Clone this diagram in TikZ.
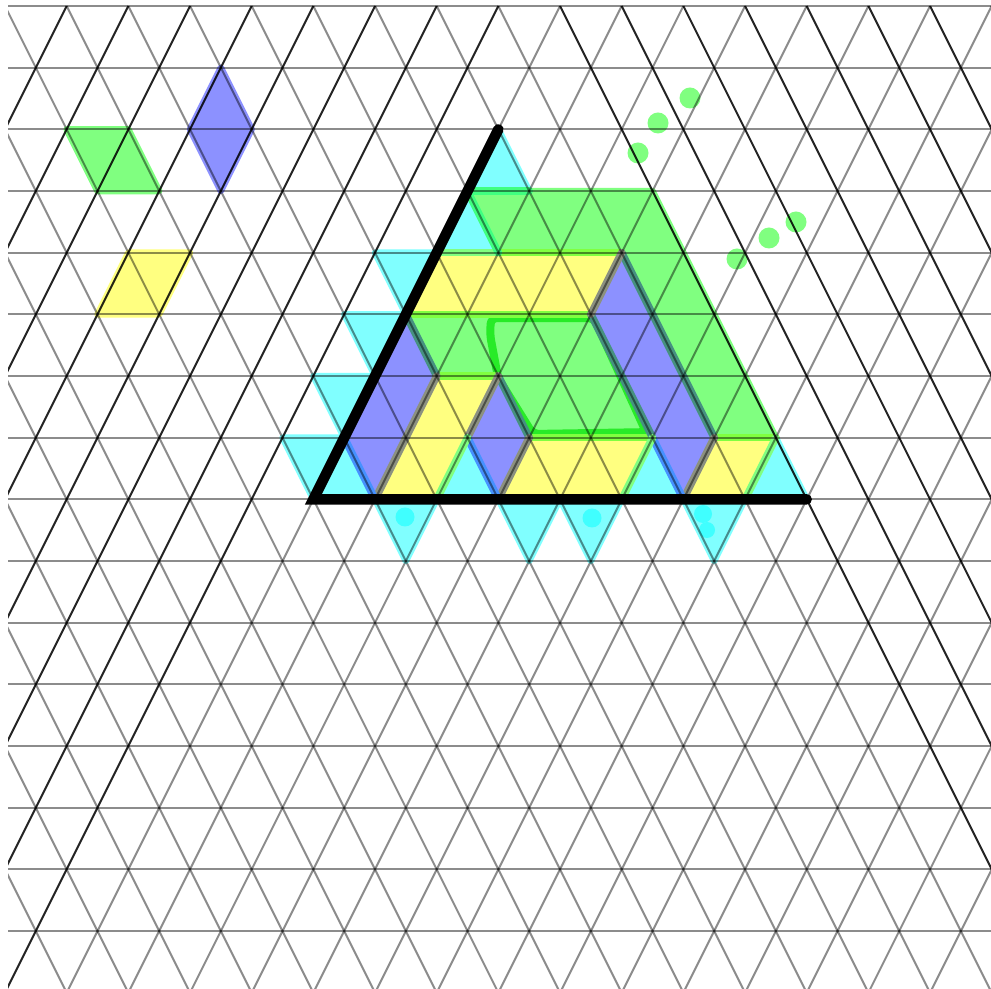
\documentclass[tikz,border=0pt]{standalone}
\usepackage{xcolor}
\usepackage{tikz}
\definecolor{mkcyan}{RGB}{128,255,255}
\definecolor{mkgreen}{RGB}{128,255,128}
\definecolor{mkyellow}{RGB}{255,255,128}
\definecolor{mkblue}{RGB}{140,145,255}
\definecolor{mkloop}{RGB}{40,235,40}
\definecolor{mkcyandark}{RGB}{64,255,255}
% marker overlaps
\definecolor{ovBG}{RGB}{70,145,128}
\definecolor{ovBY}{RGB}{140,145,128}
\definecolor{ovGY}{RGB}{128,255,64}
\definecolor{ovBC}{RGB}{70,145,255}
\definecolor{ovYC}{RGB}{128,255,128}
\definecolor{ovGC}{RGB}{64,255,128}
\tikzset{
  gridln/.style={draw=black, draw opacity=0.45, line width=0.04cm},
  gridlndark/.style={draw=black, draw opacity=0.86, line width=0.04cm},
  marker/.style={fill=#1, draw=#1, line width=0.13cm, line join=round, line cap=round},
  overlap/.style={draw=#1, line width=0.15cm, line cap=round},
  angleln/.style={draw=black, line width=0.21cm, line cap=round},
}

\begin{document}
\begin{tikzpicture}[x={(1.2334cm,0cm)}, y={(0.6167cm,-1.2334cm)}]
  \useasboundingbox (-0.1cm,0.12cm) rectangle (19.72cm,-19.66cm);

  % cyan
  \foreach \a/\j in {7/2, 6/3, 2/7, 4/7, 7/7, 9/7}
    \path[marker=mkcyan] (\a,\j) -- ++(-1,1) -- ++(1,0) -- cycle;
  \foreach \a/\j in {4/4, 3/5, 2/6, 1/7, 2/8, 4/8, 5/8, 7/8}
    \path[marker=mkcyan] (\a,\j) -- ++(1,0) -- ++(-1,1) -- cycle;
  \fill[mkcyandark] (8.0cm,-10.22cm) circle (0.19cm);
  \fill[mkcyandark] (11.74cm,-10.24cm) circle (0.19cm);
  \fill[mkcyandark] (13.96cm,-10.16cm) circle (0.18cm);
  \fill[mkcyandark] (14.04cm,-10.48cm) circle (0.16cm);

  % yellow
  \path[marker=mkyellow] (0,4) -- (1,4) -- (0,5) -- (-1,5) -- cycle;
  \path[marker=mkyellow] (5,4) -- (8,4) -- (7,5) -- (4,5) -- cycle;
  \path[marker=mkyellow] (4,6) -- (5,6) -- (3,8) -- (2,8) -- cycle;
  \path[marker=mkyellow] (5,7) -- (7,7) -- (6,8) -- (4,8) -- cycle;
  \path[marker=mkyellow] (8,7) -- (9,7) -- (8,8) -- (7,8) -- cycle;

  % green
  \path[marker=mkgreen] (0,2) -- (1,2) -- (1,3) -- (0,3) -- cycle;
  \path[marker=mkgreen] (6,3) -- (9,3) -- (9,7) -- (8,7) -- (8,4) -- (6,4) -- cycle;
  \path[marker=mkgreen] (4,5) -- (7,5) -- (7,7) -- (5,7) -- (5,6) -- (4,6) -- cycle;
  \draw[mkloop, line width=0.16cm, rounded corners=0.12cm, line join=round]
    (5.35,5.06) -- (7.02,5.06) -- (6.94,6.91) -- (5.09,6.94) -- (4.98,6.03) -- (5.2,5.33) -- cycle;
  \foreach \p in {(13.7cm,-1.84cm), (13.06cm,-2.34cm), (12.66cm,-2.94cm),
                  (14.64cm,-5.06cm), (15.28cm,-4.64cm), (15.82cm,-4.32cm)}
    \fill[mkgreen] \p circle (0.21cm);

  % blue
  \path[marker=mkblue] (3,1) -- (3,2) -- (2,3) -- (2,2) -- cycle;
  \path[marker=mkblue] (4,5) -- (4,6) -- (2,8) -- (2,7) -- cycle;
  \path[marker=mkblue] (5,6) -- (5,7) -- (4,8) -- (4,7) -- cycle;
  \path[marker=mkblue] (8,4) -- (8,7) -- (7,8) -- (7,5) -- cycle;

  % where two markers overlap
  \draw[overlap=ovGY] (6,4) -- (8,4);
  \draw[overlap=ovGY] (4,5) -- (7,5);
  \draw[overlap=ovGY] (4,6) -- (5,6);
  \draw[overlap=ovGY] (5,7) -- (7,7);
  \draw[overlap=ovGY] (8,7) -- (9,7);
  \draw[overlap=ovBG] (8,4) -- (8,7);
  \draw[overlap=ovBG] (7,5) -- (7,7);
  \draw[overlap=ovBG] (5,6) -- (5,7);
  \draw[overlap=ovBG] (4,5) -- (4,6);
  \draw[overlap=ovBY] (8,4) -- (7,5);
  \draw[overlap=ovBY] (4,6) -- (2,8);
  \draw[overlap=ovBY] (5,6) -- (4,7);
  \draw[overlap=ovBY] (5,7) -- (4,8);
  \draw[overlap=ovBY] (8,7) -- (7,8);
  \draw[overlap=ovBC] (2,7) -- (2,8);
  \draw[overlap=ovBC] (4,7) -- (4,8);
  \draw[overlap=ovBC] (7,7) -- (7,8);
  \draw[overlap=ovYC] (5,4) -- (6,4);
  \draw[overlap=ovYC] (4,7) -- (3,8);
  \draw[overlap=ovYC] (7,7) -- (6,8);
  \draw[overlap=ovYC] (9,7) -- (8,8);
  \draw[overlap=ovGC] (6,3) -- (6,4);
  \draw[overlap=ovGC] (6,3) -- (7,3);

  % triangular lattice
  \begin{scope}
    \clip (0.06cm,0.03cm) rectangle (19.72cm,-19.66cm);
    \foreach \j in {0,...,15}
      \draw[gridln] ({-1-\j/2},\j) -- ({17-\j/2},\j);
    \foreach \a in {-8,...,16} {
      \ifnum\a>8 \draw[gridlndark] (\a,0) -- (\a,16);
      \else \draw[gridln] (\a,0) -- (\a,16); \fi
    }
    \foreach \c in {0,...,24} {
      \ifnum\c<9 \draw[gridlndark] (\c,0) -- ({\c-16},16);
      \else \draw[gridln] (\c,0) -- ({\c-16},16); \fi
    }
  \end{scope}

  % the angle
  \coordinate (apex) at (7,2);
  \coordinate (corner) at (1,8);
  \coordinate (tip) at (9,8);
  \draw[angleln] (apex) -- (corner) -- (tip);
\end{tikzpicture}
\end{document}
